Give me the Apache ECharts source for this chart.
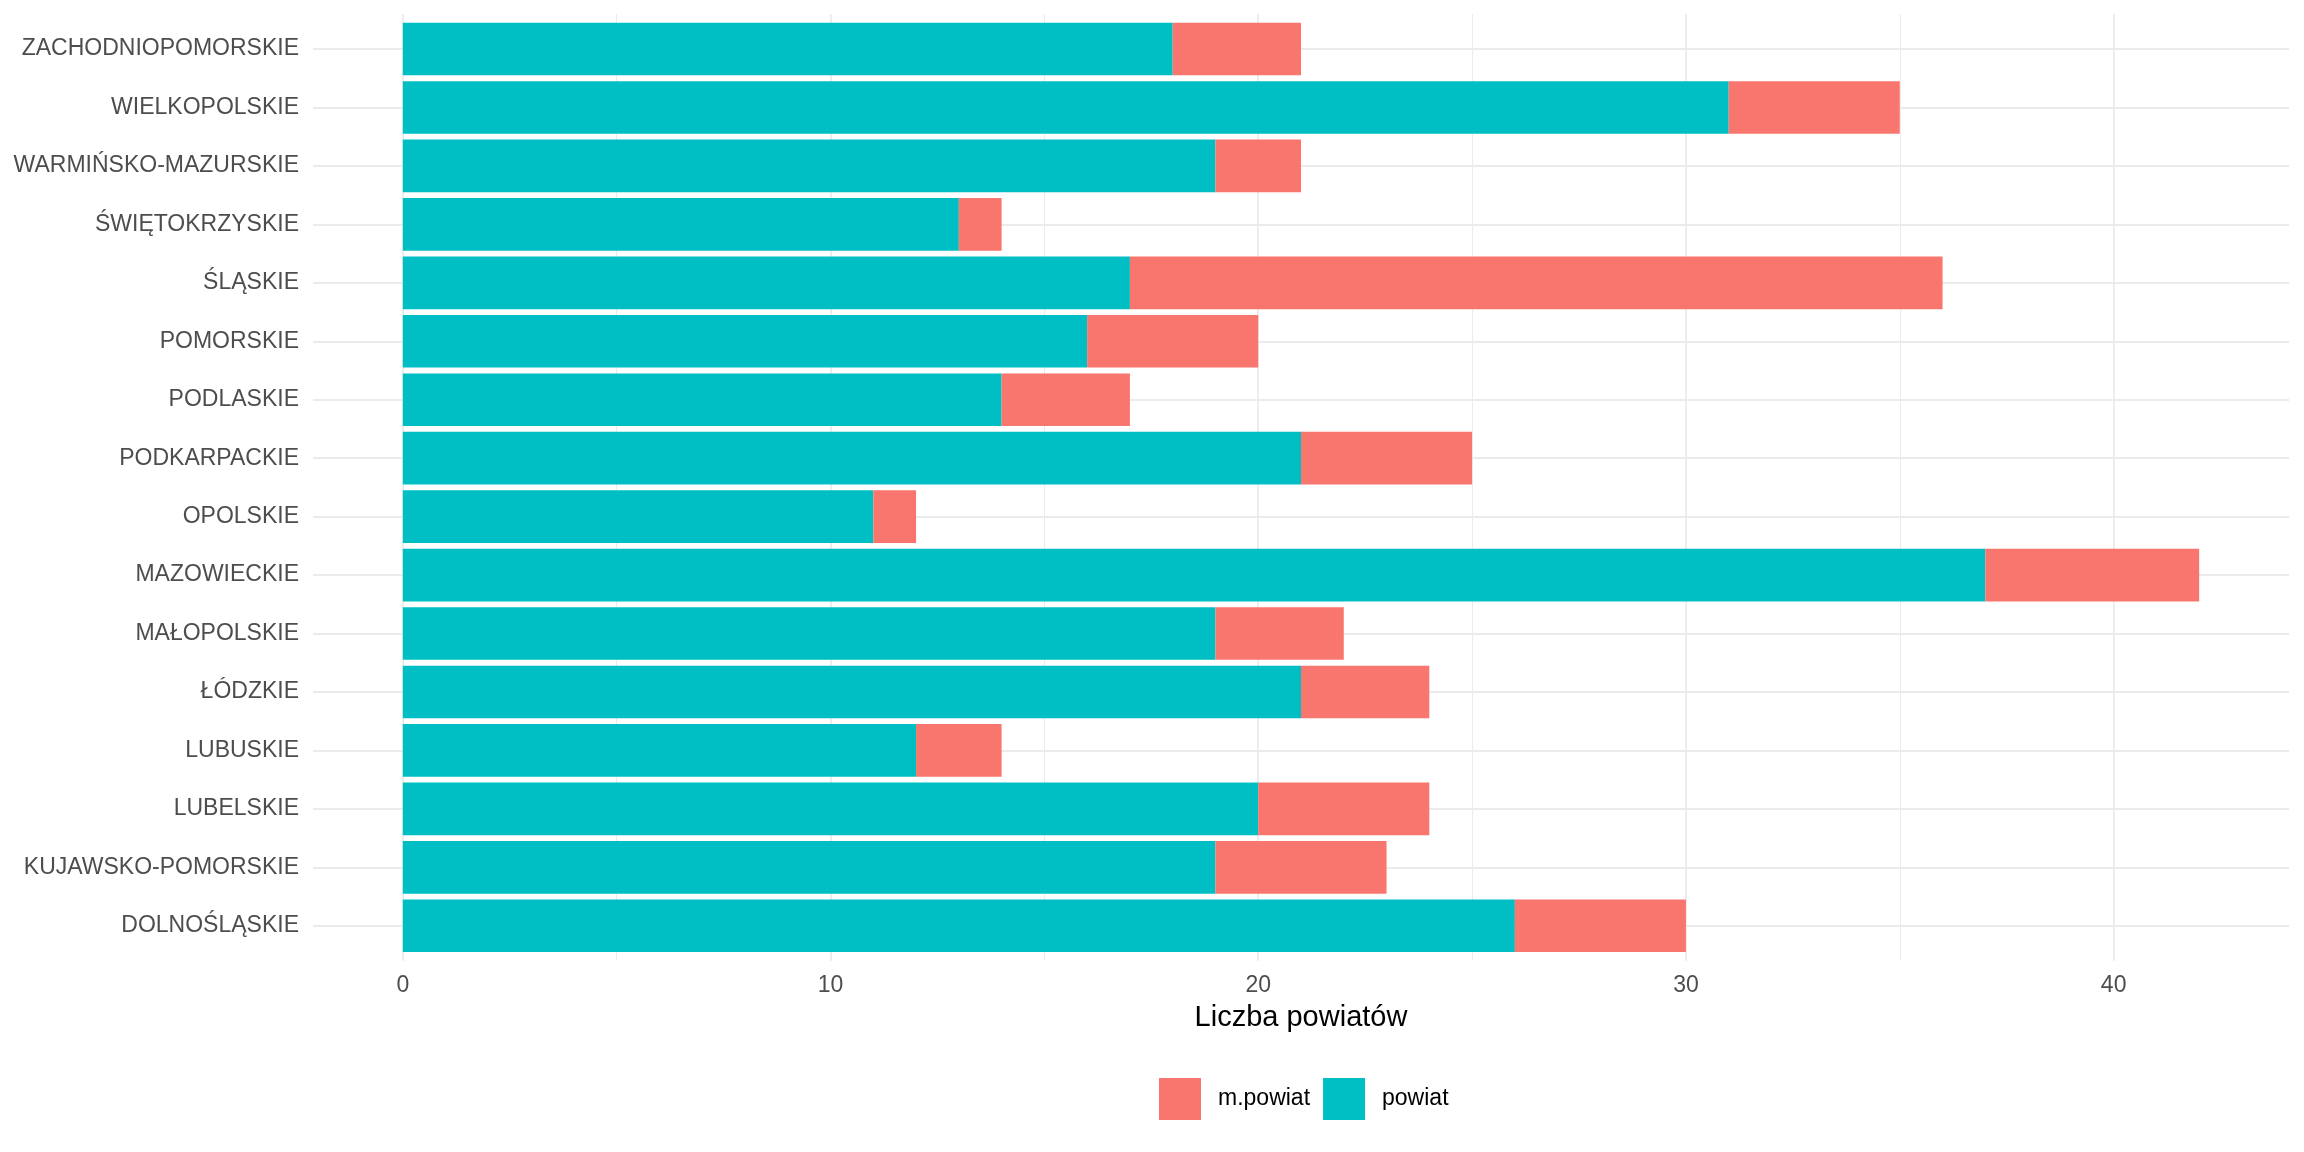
<!DOCTYPE html>
<html style="height: 100%">

<head>
    <meta charset="utf-8">
    <title>Liczba powiatów</title>
</head>

<body style="height: 100%; margin: 0; background: #fff">
    <div id="container" style="width: 2304px; height: 1152px"></div>
    <script src="https://cdn.jsdelivr.net/npm/echarts@6/dist/echarts.min.js"></script>
    <script type="text/javascript">
        var myChart = echarts.init(document.getElementById('container'));

        // województwa, od dołu wykresu do góry
        var regions = [
            'DOLNOŚLĄSKIE', 'KUJAWSKO-POMORSKIE', 'LUBELSKIE', 'LUBUSKIE',
            'ŁÓDZKIE', 'MAŁOPOLSKIE', 'MAZOWIECKIE', 'OPOLSKIE',
            'PODKARPACKIE', 'PODLASKIE', 'POMORSKIE', 'ŚLĄSKIE',
            'ŚWIĘTOKRZYSKIE', 'WARMIŃSKO-MAZURSKIE', 'WIELKOPOLSKIE', 'ZACHODNIOPOMORSKIE'
        ];
        var powiat = [26, 19, 20, 12, 21, 19, 37, 11, 21, 14, 16, 17, 13, 19, 31, 18];
        var mPowiat = [4, 4, 4, 2, 3, 3, 5, 1, 4, 3, 4, 19, 1, 2, 4, 3];

        var majorTicks = [0, 10, 20, 30, 40];
        var minorTicks = [5, 15, 25, 35];

        var gridColor = '#EBEBEB';
        var font = '"Liberation Sans", Arial, sans-serif';

        var option = {
            backgroundColor: '#fff',
            animation: false,
            legend: {
                data: ['m.powiat', 'powiat'],
                left: 1159,
                top: 1078,
                padding: 0,
                itemWidth: 42,
                itemHeight: 42,
                itemGap: 13,
                icon: 'rect',
                textStyle: {
                    fontFamily: font,
                    fontSize: 23,
                    color: '#000',
                    padding: [0, 0, 0, 12]
                }
            },
            grid: [
                // słupki
                { left: 313, right: 15, top: 19.8, bottom: 197 },
                // siatka pionowa i oś X
                { left: 313, right: 15, top: 14, bottom: 191.3 }
            ],
            xAxis: [{
                type: 'value',
                gridIndex: 0,
                min: -2.1,
                max: 44.1,
                show: false
            }, {
                type: 'value',
                gridIndex: 1,
                min: -2.1,
                max: 44.1,
                name: 'Liczba powiatów',
                nameLocation: 'middle',
                nameGap: 43,
                nameTextStyle: {
                    fontFamily: font,
                    fontSize: 29,
                    color: '#000'
                },
                axisLine: { show: false },
                axisTick: { show: false, customValues: majorTicks },
                axisLabel: {
                    customValues: majorTicks,
                    margin: 13,
                    fontFamily: font,
                    fontSize: 23,
                    color: '#4D4D4D'
                },
                splitLine: { show: true, lineStyle: { color: gridColor, width: 1.8 } }
            }, {
                type: 'value',
                gridIndex: 1,
                position: 'top',
                min: -2.1,
                max: 44.1,
                axisLine: { show: false },
                axisTick: { show: false, customValues: minorTicks },
                axisLabel: { show: false },
                splitLine: { show: true, lineStyle: { color: gridColor, width: 1 } }
            }],
            yAxis: [{
                type: 'category',
                gridIndex: 0,
                data: regions,
                axisLine: { show: false },
                axisTick: { show: false },
                axisLabel: {
                    interval: 0,
                    margin: 14,
                    padding: [3, 0, 0, 0],
                    fontFamily: font,
                    fontSize: 23,
                    color: '#4D4D4D'
                },
                splitLine: {
                    show: true,
                    interval: 0,
                    alignWithLabel: true,
                    lineStyle: { color: gridColor, width: 1.8 }
                }
            }, {
                type: 'value',
                gridIndex: 1,
                min: 0,
                max: 1,
                show: false
            }],
            series: [{
                name: 'powiat',
                type: 'bar',
                stack: 'total',
                xAxisIndex: 0,
                yAxisIndex: 0,
                barWidth: '90%',
                itemStyle: { color: '#00BFC4' },
                data: powiat
            }, {
                name: 'm.powiat',
                type: 'bar',
                stack: 'total',
                xAxisIndex: 0,
                yAxisIndex: 0,
                barWidth: '90%',
                itemStyle: { color: '#F8766D' },
                data: mPowiat
            }]
        };
        myChart.setOption(option);
    </script>
</body>

</html>
